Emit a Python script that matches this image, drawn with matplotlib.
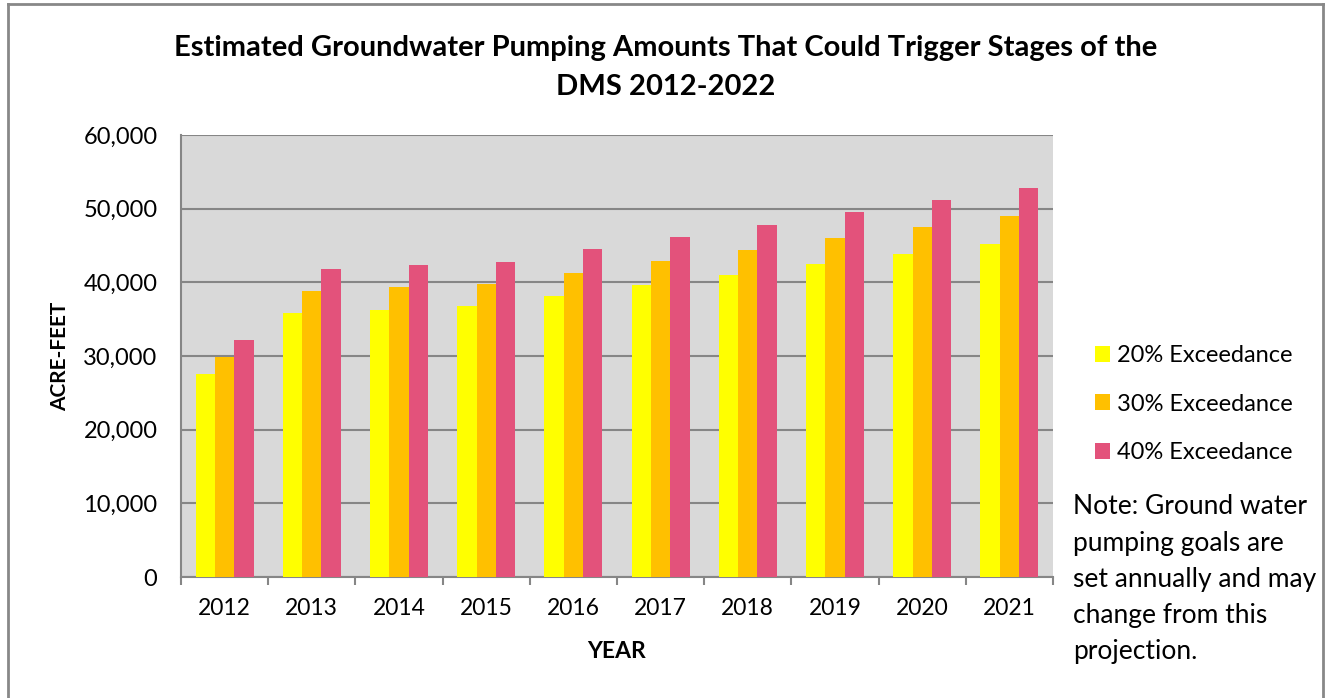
import numpy as np
import matplotlib
matplotlib.use("Agg")
import matplotlib.pyplot as plt
from matplotlib.lines import Line2D
from matplotlib.patches import Patch
from matplotlib.ticker import FuncFormatter, MultipleLocator

plt.rcParams['font.family'] = ['Lato', 'DejaVu Sans']

years = ['2012', '2013', '2014', '2015', '2016', '2017', '2018', '2019', '2020', '2021']
exceed_20 = [27570, 35870, 36280, 36730, 38140, 39590, 41000, 42450, 43850, 45260]
exceed_30 = [29930, 38870, 39320, 39730, 41320, 42860, 44400, 45990, 47480, 49070]
exceed_40 = [32200, 41860, 42310, 42810, 44490, 46120, 47800, 49520, 51160, 52830]
series_names = ['20% Exceedance', '30% Exceedance', '40% Exceedance']
colors = ['#FFFF00', '#FFC000', '#E3527B']

W, H = 1341, 698
fig = plt.figure(figsize=(W / 100, H / 100), dpi=100)
fig.patch.set_facecolor('white')

ax = fig.add_axes([181 / W, 1 - 577 / H, (1053 - 181) / W, (577 - 135) / H])
ax.set_facecolor('#D9D9D9')

x = np.arange(len(years))
bw = 0.222
for i, (vals, c) in enumerate(zip([exceed_20, exceed_30, exceed_40], colors)):
    ax.bar(x + (i - 1) * bw, vals, width=bw, color=c, edgecolor='none', zorder=3)

ax.set_xlim(-0.5, len(years) - 0.5)
ax.set_ylim(0, 60000)
ax.yaxis.set_major_locator(MultipleLocator(10000))
ax.yaxis.set_major_formatter(FuncFormatter(lambda v, p: f'{int(v):,}'))
ax.grid(axis='y', color='#868686', linewidth=1.5, zorder=1)

ax.set_xticks(x)
ax.set_xticklabels(years, fontsize=16.5)
ax.set_xticks(np.arange(-0.5, len(years), 1), minor=True)
ax.tick_params(axis='x', which='major', length=0, pad=15)
ax.tick_params(axis='x', which='minor', length=6, width=1.5, color='#868686')
ax.tick_params(axis='y', length=0, labelsize=17, pad=17)

for side in ['top', 'right']:
    ax.spines[side].set_visible(False)
for side in ['left', 'bottom']:
    ax.spines[side].set_color('#868686')
    ax.spines[side].set_linewidth(1.5)

fig.text(666 / W, 1 - 48 / H, 'Estimated Groundwater Pumping Amounts That Could Trigger Stages of the',
         ha='center', va='center', fontsize=21, fontweight='bold')
fig.text(666 / W, 1 - 87 / H, 'DMS 2012-2022',
         ha='center', va='center', fontsize=21, fontweight='bold')
fig.text(617 / W, 1 - 652 / H, 'YEAR', ha='center', va='center', fontsize=16.5, fontweight='bold')
fig.text(60 / W, 1 - 356 / H, 'ACRE-FEET', ha='center', va='center', fontsize=15,
         fontweight='bold', rotation=90)

handles = [Patch(facecolor=c, edgecolor='none') for c in colors]
fig.legend(handles, series_names, loc='upper left', bbox_to_anchor=(1095 / W, 1 - 345 / H),
           frameon=False, fontsize=17, handlelength=0.65, handleheight=0.65,
           handletextpad=0.3, labelspacing=1.17, borderaxespad=0, borderpad=0)

note_lines = ['Note: Ground water', 'pumping goals are', 'set annually and may',
              'change from this', 'projection.']
for k, line in enumerate(note_lines):
    fig.text(1073 / W, 1 - (507 + k * 36) / H, line, ha='left', va='center', fontsize=19)

# outer chart frame, open at the bottom
frame = dict(color='#888888', linewidth=2, transform=fig.transFigure)
fig.add_artist(Line2D([8 / W, 8 / W], [0, 1 - 4 / H], **frame))
fig.add_artist(Line2D([8 / W, 1323 / W], [1 - 4 / H, 1 - 4 / H], **frame))
fig.add_artist(Line2D([1323 / W, 1323 / W], [0, 1 - 4 / H], **frame))

fig.savefig('out.png', dpi=100)
